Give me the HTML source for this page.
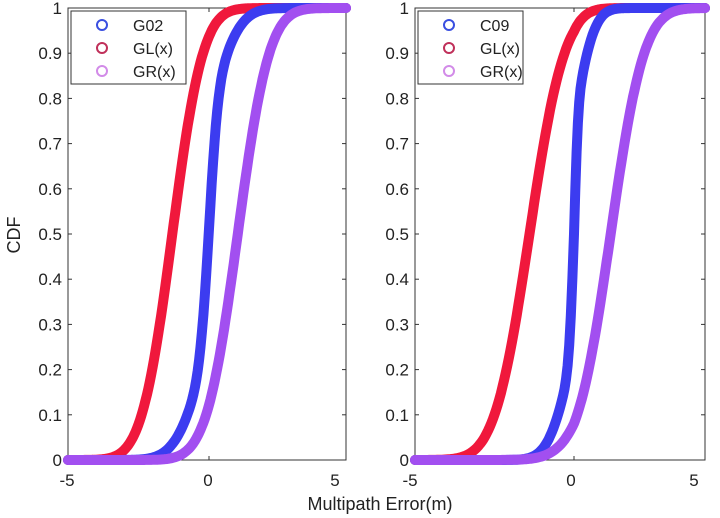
<!DOCTYPE html>
<html><head><meta charset="utf-8"><style>
body{margin:0;background:#fff;}
svg{display:block;font-family:"Liberation Sans",sans-serif;}
</style></head><body>
<svg id="s" width="720" height="518" xmlns="http://www.w3.org/2000/svg"></svg>
<script>
const s=document.getElementById('s');let h='';
function erf(x){const t=1/(1+0.3275911*Math.abs(x));const y=1-(((((1.061405429*t-1.453152027)*t)+1.421413741)*t-0.284496736)*t+0.254829592)*t*Math.exp(-x*x);return x>=0?y:-y;}
function N(x,m,sd){return 0.5*(1+erf((x-m)/(sd*Math.SQRT2)));}
function panel(x0,x1,zx,labs,series,leg,legW){
 const y0=460,y1=8;
 const X=v=>v<=0?zx+(v/5)*(zx-x0):zx+(v/5)*(x1-zx);
 const Y=p=>y0-p*(y0-y1);
 h+=`<rect x="${x0}" y="${y1}" width="${x1-x0}" height="${y0-y1}" fill="#fff" stroke="#333" stroke-width="1"/>`;
 for(let i=0;i<=10;i++){const y=Y(i/10);h+=`<line x1="${x0}" x2="${x0+4}" y1="${y}" y2="${y}" stroke="#333"/><line x1="${x1}" x2="${x1-4}" y1="${y}" y2="${y}" stroke="#333"/>`;
 const lab=i==0?'0':i==10?'1':(i/10).toFixed(1);h+=`<text x="${x0-6}" y="${y+6}" font-size="17" text-anchor="end" fill="#222">${lab}</text>`;}
 [-5,0,5].forEach((v,k)=>{const x=X(v);h+=`<line x1="${x}" x2="${x}" y1="${y0}" y2="${y0-4}" stroke="#333"/><line x1="${x}" x2="${x}" y1="${y1}" y2="${y1+4}" stroke="#333"/><text x="${labs[k]}" y="${y0+26}" font-size="17" text-anchor="middle" fill="#222">${v}</text>`;});
 series.forEach(([f,c])=>{let d='';for(let v=-5;v<=5.001;v+=0.05){const p=f(v);d+=(d?'L':'M')+X(v).toFixed(1)+','+Y(p).toFixed(1);}h+=`<path d="${d}" fill="none" stroke="${c}" stroke-width="10" stroke-linecap="round" stroke-linejoin="round"/>`;});
 const lx=x0+3;h+=`<rect x="${lx}" y="11" width="${legW}" height="73" fill="#fff" stroke="#333"/>`;
 [['#3a4fe0',leg],['#c0305a','GL(x)'],['#d28be8','GR(x)']].forEach(([c,t],i)=>{const y=25+i*23;h+=`<circle cx="${lx+31}" cy="${y}" r="5" fill="none" stroke="${c}" stroke-width="2"/><text x="${lx+62}" y="${y+6}" font-size="16" fill="#222">${t}</text>`;});
}
const red='#f0183c',blue='#3c3cf0',pur='#a24ff0';
panel(68,346,209,[67,208,335],[
 [v=>N(v,-1.3,0.85),red],[v=>0.5*N(v,0,0.25)+0.5*N(v,-0.05,0.85),blue],[v=>N(v,1.05,0.9),pur]],'G02',115);
panel(415,705,574,[410,571,694],[
 [v=>N(v,-1.4,0.86),red],[v=>0.5*N(v,0,0.12)+0.5*N(v,0,0.6),blue],[v=>N(v,1.4,1.0),pur]],'C09',105);
h+=`<text x="20" y="235" font-size="18" text-anchor="middle" fill="#222" transform="rotate(-90 20 235)">CDF</text>`;
h+=`<text x="380" y="510" font-size="18" text-anchor="middle" fill="#222">Multipath Error(m)</text>`;
s.innerHTML=h;
</script>
</body></html>
